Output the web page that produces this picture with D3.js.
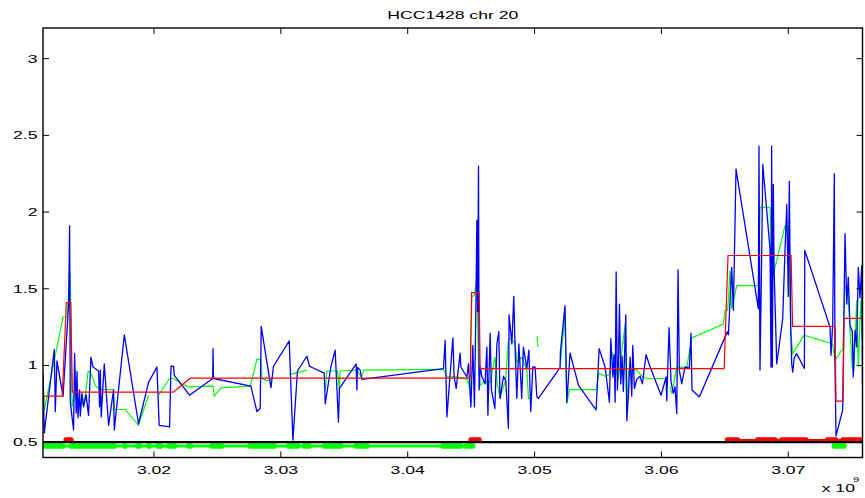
<!DOCTYPE html>
<html>
<head>
<meta charset="utf-8">
<script src="https://cdn.jsdelivr.net/npm/d3@7"></script>
<style>
  body { margin: 0; background: #fff; }
  text { font-family: "Liberation Sans", Arial, Helvetica, sans-serif; fill: #000; }
</style>
</head>
<body>
<svg id="chart" width="865" height="498"></svg>
<script>
// positions in Mb (axis shows x 10^9 bp), values = copy number ratio
var xTicks = [3020, 3030, 3040, 3050, 3060, 3070];
var xTickLabels = ["3.02", "3.03", "3.04", "3.05", "3.06", "3.07"];
var yTicks = [0.5, 1, 1.5, 2, 2.5, 3];
var yTickLabels = ["0.5", "1", "1.5", "2", "2.5", "3"];
var baseline = 0.5;

// raw probe ratios (blue)
var rawRatio = [
[3011.25,0.95],[3011.35,0.56],[3012.14,1.105],[3012.22,0.70],[3012.35,1.03],[3012.83,0.80],[3013.27,1.40],[3013.35,1.91],[3013.40,0.76],[3013.66,0.58],[3013.74,1.077],[3013.87,0.69],[3013.93,0.96],[3014.01,0.66],[3014.13,0.84],[3014.19,0.67],[3014.32,0.82],[3014.45,0.73],[3014.64,0.81],[3014.84,0.675],[3015.03,1.055],[3015.19,0.99],[3015.63,0.964],[3015.71,0.73],[3015.77,0.97],[3015.84,0.665],[3016.08,1.01],[3016.42,0.61],[3016.81,0.84],[3016.87,0.58],[3017.66,1.20],[3018.78,0.62],[3019.57,0.89],[3020.23,0.99],[3020.41,0.61],[3021.23,0.60],[3021.34,0.995],[3021.54,0.995],[3021.60,0.936],[3022.80,0.806],[3024.63,0.915],[3024.65,1.11],[3024.69,0.915],[3027.64,0.865],[3028.11,0.70],[3028.37,0.72],[3028.45,1.255],[3029.22,0.856],[3029.42,0.995],[3030.66,1.16],[3030.95,0.513],[3031.31,0.964],[3032.05,1.06],[3032.26,0.995],[3033.42,0.95],[3033.50,0.75],[3033.94,0.99],[3034.28,1.10],[3034.54,0.63],[3034.62,0.85],[3035.94,1.01],[3035.99,0.84],[3036.04,0.987],[3036.25,0.97],[3036.39,0.91],
[3042.82,0.98],[3042.95,1.164],[3043.09,0.665],[3043.56,1.18],[3043.66,0.925],[3043.82,0.85],[3044.13,1.08],[3044.19,0.99],[3044.66,0.925],[3044.79,1.01],[3044.98,0.73],[3045.13,1.13],[3045.26,0.73],[3045.39,1.468],[3045.45,1.945],[3045.51,1.35],[3045.58,2.30],[3045.63,0.84],[3045.71,0.99],[3045.84,0.93],[3046.10,0.88],[3046.24,1.12],[3046.32,0.676],[3046.50,1.21],[3046.60,0.84],[3046.87,0.72],[3047.03,1.14],[3047.18,1.22],[3047.28,0.785],[3047.55,0.93],[3047.73,0.90],[3047.94,0.59],[3047.99,1.33],[3048.21,1.14],[3048.36,1.45],[3048.47,1.10],[3048.60,0.785],[3048.76,1.14],[3048.86,0.99],[3048.99,0.785],[3049.12,1.12],[3049.39,0.98],[3049.55,1.10],[3049.70,0.70],[3049.86,0.99],[3050.04,0.99],[3050.18,0.795],[3050.30,0.785],
[3052.01,0.986],[3052.04,1.09],[3052.40,1.39],[3052.54,0.76],[3052.80,1.08],[3053.46,0.87],[3054.85,0.71],[3055.09,1.11],[3055.56,0.99],[3055.90,0.76],[3056.01,1.175],[3056.17,0.925],[3056.27,1.07],[3056.35,0.76],[3056.43,1.61],[3056.53,0.84],[3056.61,1.02],[3056.69,1.40],[3056.80,0.88],[3056.90,1.06],[3057.00,0.83],[3057.19,1.33],[3057.27,0.64],[3057.40,0.81],[3057.53,1.055],[3057.66,0.80],[3057.74,1.13],[3057.87,0.85],[3058.06,0.91],[3058.32,0.93],[3058.50,0.88],[3058.79,1.07],[3059.11,0.99],[3059.97,0.806],[3060.37,0.925],[3060.42,0.77],[3060.60,1.247],[3060.76,0.89],[3060.94,0.82],[3061.07,0.86],[3061.21,0.687],[3061.31,1.624],[3061.41,0.97],[3061.60,0.88],[3061.86,0.99],[3062.20,0.985],[3062.33,1.21],[3062.41,0.84],[3062.99,0.795],
[3064.96,1.175],[3065.20,1.22],[3065.28,1.20],[3065.54,1.64],[3065.67,1.36],[3065.88,2.28],[3067.64,1.37],[3067.69,2.43],[3067.77,0.97],[3067.91,1.77],[3067.99,2.31],[3068.56,1.76],[3068.64,0.99],[3068.69,2.43],[3068.74,0.99],[3068.82,2.18],[3068.88,1.63],[3069.09,1.01],[3069.56,1.305],[3069.74,1.75],[3069.88,2.05],[3070.00,1.45],[3070.08,2.2],[3070.19,1.25],[3070.27,1.01],[3070.35,0.956],[3070.47,1.05],[3070.66,1.077],[3071.27,0.98],[3071.30,1.75],[3073.29,1.25],[3073.37,1.066],[3073.50,1.27],[3073.63,2.25],[3073.68,1.02],[3073.76,0.54],[3074.29,0.71],[3074.47,1.86],[3074.61,1.40],[3074.73,1.576],[3074.86,1.26],[3075.05,1.22],[3075.12,0.925],[3075.26,1.23],[3075.39,1.12],[3075.52,1.64],[3075.65,1.44],[3075.79,1.65],[3075.85,0.88]
];

// smoothed ratio (green), null = gap
var smoothRatio = [
[3011.25,0.925],[3011.35,0.71],[3012.83,1.316],[3013.14,1.316],[3013.40,1.60],[3013.54,0.73],[3013.85,0.88],[3014.06,0.74],[3014.32,0.745],[3014.58,0.795],[3014.80,0.96],[3014.98,0.96],[3015.37,0.87],[3015.71,0.843],[3016.81,0.843],[3016.87,0.713],[3017.74,0.713],[3018.78,0.61],[3019.57,0.806],[3019.9,null],
[3020.36,0.806],[3021.23,0.915],[3021.54,0.915],[3022.07,0.886],[3022.72,0.86],[3024.65,0.865],[3024.75,0.80],[3025.28,0.854],[3027.59,0.865],[3028.11,1.04],[3028.43,1.04],[3028.51,0.915],[3028.90,0.90],[3029.42,0.915],[3030.0,null],
[3030.68,0.94],[3032.05,0.97],[3032.8,null],
[3033.42,0.925],[3033.50,0.84],[3033.63,0.964],[3034.46,0.964],[3034.62,0.84],[3034.67,0.964],[3035.99,0.97],[3036.34,0.925],[3036.52,0.97],[3042.82,0.975],[3043.09,0.925],[3043.89,0.925],[3044.66,0.91],[3044.79,0.88],[3044.92,0.84],[3045.05,1.446],[3045.26,1.46],[3045.45,1.576],[3045.58,0.99],[3045.71,0.87],[3045.97,0.89],[3046.50,0.89],[3046.88,1.055],[3047.06,0.88],[3047.28,0.795],[3047.71,0.90],[3047.94,1.164],[3048.02,1.175],[3048.47,1.15],[3048.60,1.02],[3048.99,1.055],[3049.39,0.97],[3049.52,0.785],[3049.65,0.785],[3049.9,null],
[3050.19,1.19],[3050.27,1.12],[3051.0,null],
[3052.01,1.0],[3052.40,1.316],[3052.54,0.75],[3052.75,0.843],[3054.85,0.843],[3055.09,0.95],[3055.56,0.93],[3055.95,0.94],[3056.08,1.09],[3056.35,0.99],[3056.61,0.91],[3057.14,1.27],[3057.27,0.71],[3057.40,0.97],[3057.66,0.97],[3058.06,0.97],[3058.47,0.93],[3058.86,0.915],[3060.30,0.915],[3060.5,null],
[3060.68,0.86],[3060.82,0.817],[3061.21,0.99],[3061.99,0.985],[3062.39,1.18],[3064.88,1.27],[3065.01,1.36],[3065.22,1.36],[3065.41,1.62],[3065.54,1.37],[3065.94,1.52],[3067.64,1.52],[3067.77,2.03],[3068.56,2.03],[3068.69,1.555],[3068.96,1.64],[3069.74,1.91],[3070.00,1.91],[3070.19,1.24],[3070.35,1.077],[3071.24,1.197],[3073.50,1.14],[3073.68,1.034],[3074.30,1.11],[3074.47,1.52],[3074.73,1.45],[3074.86,1.24],[3075.05,0.98],[3075.18,0.97],[3075.39,1.425],[3075.52,0.99],[3075.71,1.425],[3075.85,1.15]
];

// segmentation (red)
var segments = [
[3011.25,0.80],[3012.77,0.80],[3013.09,1.41],[3013.44,1.41],[3013.56,0.826],[3021.52,0.826],[3022.86,0.917],[3044.92,0.917],[3045.04,1.475],[3045.63,1.475],[3045.71,0.98],[3064.94,0.98],[3065.25,1.717],[3070.22,1.717],[3070.34,1.255],[3073.69,1.255],[3073.76,0.767],[3074.32,0.767],[3074.39,1.307],[3075.85,1.307]
];

// called regions along the baseline
var lossRange = [3011.25, 3045.32];
var lossBlocks = [
[3011.25,3013.01],[3013.27,3017.08],[3017.48,3017.92],[3018.52,3019.05],[3019.39,3019.84],[3020.10,3020.75],[3020.97,3021.81],[3022.54,3023.07],[3024.38,3025.54],[3027.37,3029.69],[3030.42,3031.53],[3031.66,3032.45],[3033.24,3034.94],[3035.73,3036.99],[3042.56,3044.39],[3044.39,3045.32],[3073.42,3074.61]
];
var gainRange = [3065.01, 3075.85];
var gainBlocks = [
[3012.87,3013.66],[3044.79,3045.84],[3065.01,3066.20],[3067.38,3069.15],[3069.29,3071.58],[3072.90,3073.94],[3074.12,3075.85]
];

var margin = { top: 28, right: 2.5, bottom: 40.5, left: 43 },
    width = 865 - margin.left - margin.right,
    height = 498 - margin.top - margin.bottom;

var x = d3.scaleLinear().domain([3011.25, 3075.85]).range([0, width]);
var y = d3.scaleLinear().domain([0.4, 3.2]).range([height, 0]);

var svg = d3.select("#chart");
var g = svg.append("g").attr("transform", "translate(" + margin.left + "," + margin.top + ")");

g.append("defs").append("clipPath").attr("id", "clip")
    .append("rect").attr("width", width).attr("height", height);

var plot = g.append("g").attr("clip-path", "url(#clip)");

var line = d3.line()
    .defined(function (d) { return d[1] !== null; })
    .x(function (d) { return x(d[0]); })
    .y(function (d) { return y(d[1]); });

// markers at the baseline
plot.append("line")
    .attr("x1", x(lossRange[0])).attr("x2", x(lossRange[1]))
    .attr("y1", y(0.475)).attr("y2", y(0.475))
    .attr("stroke", "#00ff00").attr("stroke-width", 3);
plot.selectAll(".loss").data(lossBlocks).enter().append("rect")
    .attr("class", "loss")
    .attr("x", function (d) { return x(d[0]); })
    .attr("width", function (d) { return x(d[1]) - x(d[0]); })
    .attr("y", y(0.475) - 2.7).attr("height", 5.4).attr("rx", 2)
    .attr("fill", "#00ff00");

plot.append("line")
    .attr("x1", x(gainRange[0])).attr("x2", x(gainRange[1]))
    .attr("y1", y(0.5137)).attr("y2", y(0.5137))
    .attr("stroke", "#ff0000").attr("stroke-width", 2);
plot.selectAll(".gain").data(gainBlocks).enter().append("rect")
    .attr("class", "gain")
    .attr("x", function (d) { return x(d[0]); })
    .attr("width", function (d) { return x(d[1]) - x(d[0]); })
    .attr("y", y(0.5137) - 2.7).attr("height", 5.4).attr("rx", 2)
    .attr("fill", "#ff0000");

plot.append("line")
    .attr("x1", 0).attr("x2", width)
    .attr("y1", y(baseline)).attr("y2", y(baseline))
    .attr("stroke", "#000").attr("stroke-width", 2.3);

plot.append("path").datum(smoothRatio)
    .attr("fill", "none").attr("stroke", "#00ff00").attr("stroke-width", 1.2)
    .attr("d", line);
plot.append("path").datum(rawRatio)
    .attr("fill", "none").attr("stroke", "#0000ff").attr("stroke-width", 1.3)
    .attr("stroke-linejoin", "round")
    .attr("d", line);
plot.append("path").datum(segments)
    .attr("fill", "none").attr("stroke", "#ff0000").attr("stroke-width", 1.2)
    .attr("d", line);

// frame with inward ticks on all four sides
g.append("rect").attr("width", width).attr("height", height)
    .attr("fill", "none").attr("stroke", "#000").attr("stroke-width", 1.4);

var tl = 6;
g.selectAll(".xt").data(xTicks).enter().append("path")
    .attr("d", function (d) {
        return "M" + x(d) + "," + height + "v" + (-tl) + "M" + x(d) + ",0v" + tl;
    })
    .attr("stroke", "#000").attr("stroke-width", 1);
g.selectAll(".yt").data(yTicks).enter().append("path")
    .attr("d", function (d) {
        return "M0," + y(d) + "h" + tl + "M" + width + "," + y(d) + "h" + (-tl);
    })
    .attr("stroke", "#000").attr("stroke-width", 1);

// stretched text like the original figure
function label(px, py, str, anchor, size, sx) {
    g.append("g")
        .attr("transform", "translate(" + px + "," + py + ") scale(" + sx + ",1)")
        .append("text")
        .attr("text-anchor", anchor)
        .style("font-size", size + "px")
        .text(str);
}

xTicks.forEach(function (d, i) { label(x(d), height + 16, xTickLabels[i], "middle", 11, 1.6); });
yTicks.forEach(function (d, i) { label(-5.5, y(d) + 4, yTickLabels[i], "end", 11, 1.6); });

label(width / 2, -9, "HCC1428 chr 20", "middle", 11, 1.6);
label(778.7, height + 34, "x 10", "start", 11, 1.6);
label(810, height + 24, "9", "start", 8, 1.4);
</script>
</body>
</html>
